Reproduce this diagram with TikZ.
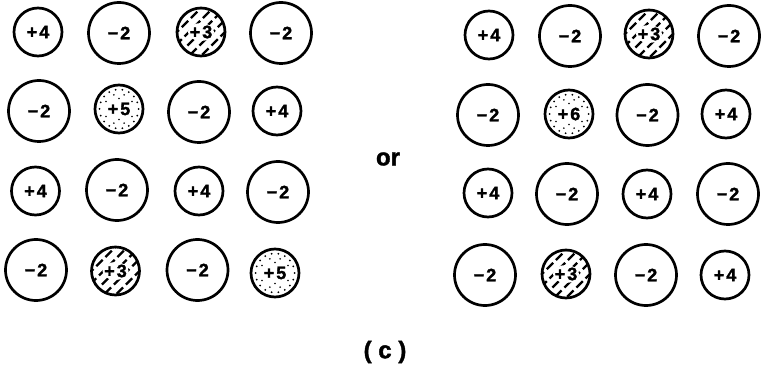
\documentclass[tikz,border=0pt]{standalone}
\usepackage{fontspec}
\setmainfont{Liberation Sans}
\newfontfamily\heavyfont{Liberation Sans}[BoldFeatures={FakeBold=1.6}]
\newcommand\plusq[1]{+\kern2pt#1}
\newcommand\minq[1]{−\kern2pt#1}
\tikzset{
  ion/.style={circle, draw, line width=2.7pt, inner sep=0pt,
    font=\fontsize{18}{18}\heavyfont\bfseries},
  cat/.style={ion, minimum size=48pt},
  ani/.style={ion, minimum size=61pt},
  hatchcat/.style={cat, path picture={
    \foreach \k in {-48,-36,...,48}{
      \draw[line width=2.4pt, dash pattern=on 9pt off 4pt]
        ([xshift=\k pt]path picture bounding box.center) ++(-32pt,-32pt) -- ++(64pt,64pt);
    }
    \fill[white] (path picture bounding box.center) ellipse (13pt and 9pt);
  }},
  stipcat/.style={cat, path picture={
    \foreach \a in {0,20,...,340}
      \fill (path picture bounding box.center) ++(\a:19.5pt) circle (1pt);
    \foreach \a in {30,70,110,150,210,250,290,330}
      \fill (path picture bounding box.center) ++(\a:15pt) circle (0.9pt);
    \foreach \a in {90,270}
      \fill (path picture bounding box.center) ++(\a:10.5pt) circle (0.9pt);
  }},
  word/.style={font=\fontsize{24}{24}\heavyfont\bfseries, inner sep=0pt}
}
\begin{document}
\begin{tikzpicture}[x=1pt, y=-1pt]
\useasboundingbox (0,0) rectangle (762,371);
% left grid
\node[cat]      (a11) at (38,32)    {\plusq{4}};
\node[ani]      (a12) at (119,33)   {\minq{2}};
\node[hatchcat] (a13) at (201,32)   {\plusq{3}};
\node[ani]      (a14) at (281,33)   {\minq{2}};
\node[ani]      (a21) at (39,111)   {\minq{2}};
\node[stipcat]  (a22) at (119,109)  {\plusq{5}};
\node[ani]      (a23) at (199,112)  {\minq{2}};
\node[cat]      (a24) at (277,111)  {\plusq{4}};
\node[cat]      (a31) at (35.5,191) {\plusq{4}};
\node[ani]      (a32) at (117,190)  {\minq{2}};
\node[cat]      (a33) at (199,191)  {\plusq{4}};
\node[ani]      (a34) at (278,192)  {\minq{2}};
\node[ani]      (a41) at (36,270)   {\minq{2}};
\node[hatchcat] (a42) at (115.5,271){\plusq{3}};
\node[ani]      (a43) at (197.5,270){\minq{2}};
\node[stipcat]  (a44) at (275,273)  {\plusq{5}};
% right grid
\node[cat]      (b11) at (489,35)   {\plusq{4}};
\node[ani]      (b12) at (570,36)   {\minq{2}};
\node[hatchcat] (b13) at (649,34)   {\plusq{3}};
\node[ani]      (b14) at (729,36)   {\minq{2}};
\node[ani]      (b21) at (488,115)  {\minq{2}};
\node[stipcat]  (b22) at (569,114)  {\plusq{6}};
\node[ani]      (b23) at (647.5,115){\minq{2}};
\node[cat]      (b24) at (726,114)  {\plusq{4}};
\node[cat]      (b31) at (488,193)  {\plusq{4}};
\node[ani]      (b32) at (567,194)  {\minq{2}};
\node[cat]      (b33) at (647,194)  {\plusq{4}};
\node[ani]      (b34) at (728,194)  {\minq{2}};
\node[ani]      (b41) at (485,275)  {\minq{2}};
\node[hatchcat] (b42) at (566,274)  {\plusq{3}};
\node[ani]      (b43) at (646,275)  {\minq{2}};
\node[cat]      (b44) at (725,275)  {\plusq{4}};
% texts
\node[word] (or) at (388,159) {or};
\node[word] (cap) at (385,352) {( c )};
\end{tikzpicture}
\end{document}
